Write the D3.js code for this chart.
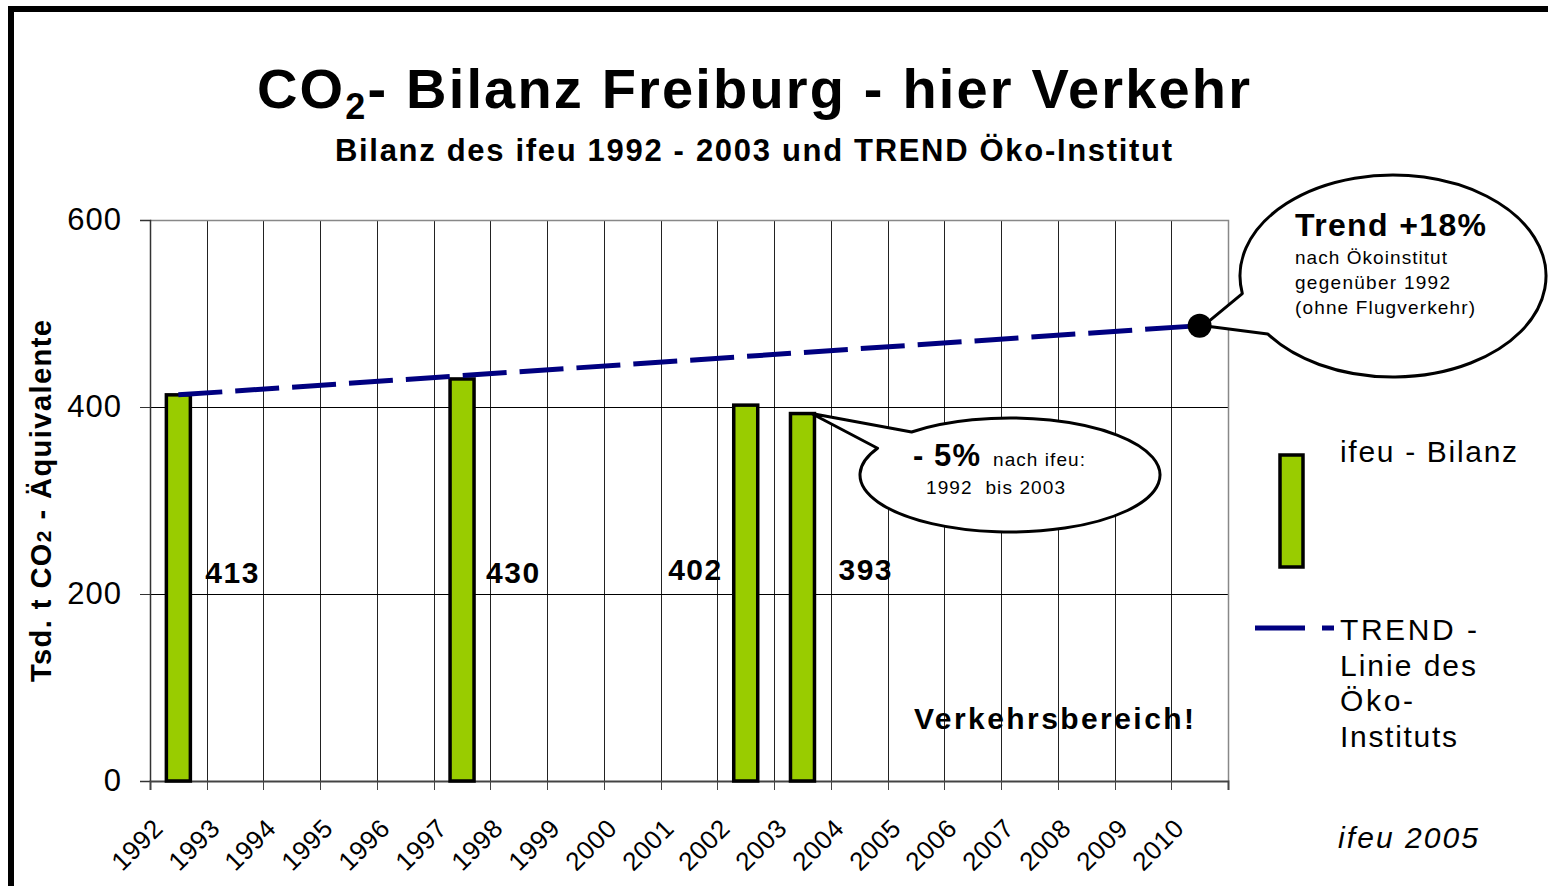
<!DOCTYPE html>
<meta charset="utf-8">
<html>
<head>
<style>
  body { margin: 0; background: #fff; }
  svg { display: block; font-family: "Liberation Sans", Arial, sans-serif; }
</style>
</head>
<body>
<svg width="1548" height="886" id="chart"></svg>
<script src="https://d3js.org/d3.v7.min.js"></script>
<script>
// ---- data ----
var years = ["1992", "1993", "1994", "1995", "1996", "1997", "1998", "1999", "2000", "2001",
             "2002", "2003", "2004", "2005", "2006", "2007", "2008", "2009", "2010"];
var bilanzYears = ["1992", "1997", "2002", "2003"];
var bilanzValues = [413, 430, 402, 393];
var trendYears = ["1992", "2010"];
var trendValues = [413, 487];
var yTicks = [0, 200, 400, 600];

// label offsets from the bar edges (layout only)
var labelDx = [15, 12, -11, 24];

var svg = d3.select("#chart");
var plot = { left: 150, right: 1228, top: 220, bottom: 781 };

var x = d3.scaleBand().domain(years).range([plot.left, plot.right]);
var y = d3.scaleLinear().domain([0, 600]).range([plot.bottom, plot.top]);
var bw = x.bandwidth();
var barW = 24;

// frame lines (left + top)
svg.append("path")
    .attr("d", "M11,886 L11,9 L1548,9")
    .attr("fill", "none")
    .attr("stroke", "#000")
    .attr("stroke-width", 6);

// title
var title = svg.append("text")
    .attr("x", 257).attr("y", 108)
    .attr("font-size", 56).attr("font-weight", "bold")
    .attr("textLength", 993).attr("lengthAdjust", "spacing");
title.append("tspan").text("CO");
title.append("tspan").attr("font-size", 36).attr("dy", 11).text("2");
title.append("tspan").attr("dy", -11).text("- Bilanz Freiburg - hier Verkehr");

svg.append("text")
    .attr("x", 335).attr("y", 161)
    .attr("font-size", 31).attr("font-weight", "bold")
    .attr("textLength", 837).attr("lengthAdjust", "spacing")
    .text("Bilanz des ifeu 1992 - 2003 und TREND Öko-Institut");

// grid
var grid = svg.append("g");
grid.selectAll(".vgrid")
    .data(years.slice(1))
    .enter().append("line")
    .attr("class", "vgrid")
    .attr("x1", function (d) { return Math.round(x(d)) + 0.5; })
    .attr("x2", function (d) { return Math.round(x(d)) + 0.5; })
    .attr("y1", plot.top).attr("y2", plot.bottom)
    .attr("stroke", "#222").attr("stroke-width", 1);
grid.selectAll(".hgrid")
    .data(yTicks.slice(1, 3))
    .enter().append("line")
    .attr("x1", plot.left).attr("x2", plot.right)
    .attr("y1", function (d) { return Math.round(y(d)) + 0.5; })
    .attr("y2", function (d) { return Math.round(y(d)) + 0.5; })
    .attr("stroke", "#000").attr("stroke-width", 1);
// plot border top/right
svg.append("path")
    .attr("d", "M" + plot.left + "," + (plot.top + 0.5) + " H" + (plot.right + 0.5) + " V" + plot.bottom)
    .attr("fill", "none").attr("stroke", "#888").attr("stroke-width", 1.5);

// y axis
var yAxis = svg.append("g")
    .attr("transform", "translate(" + plot.left + ",0)")
    .call(d3.axisLeft(y).tickValues(yTicks).tickSize(10).tickPadding(18));
yAxis.select(".domain").attr("stroke", "#333").attr("stroke-width", 1.5);
yAxis.selectAll(".tick line").attr("stroke", "#333");
yAxis.selectAll(".tick text")
    .attr("font-size", 31).attr("font-family", "Liberation Sans, Arial, sans-serif")
    .attr("letter-spacing", 1).attr("fill", "#000");

// x axis, ticks on category boundaries
var xAxis = svg.append("g")
    .attr("transform", "translate(0," + plot.bottom + ")")
    .call(d3.axisBottom(x).tickSize(9).tickSizeOuter(9));
xAxis.select(".domain").attr("stroke", "#444").attr("stroke-width", 2);
xAxis.selectAll(".tick")
    .attr("transform", function (d) { return "translate(" + (Math.round(x(d)) + 0.5) + ",0)"; });
xAxis.selectAll(".tick line").attr("stroke", "#444");
xAxis.selectAll(".tick text")
    .attr("font-size", 26).attr("font-family", "Liberation Sans, Arial, sans-serif")
    .attr("letter-spacing", 0.5).attr("fill", "#000")
    .attr("text-anchor", "end")
    .attr("x", 0).attr("y", 0).attr("dy", 0)
    .attr("transform", "translate(14,49) rotate(-45)");
xAxis.append("line")
    .attr("x1", plot.right + 0.5).attr("x2", plot.right + 0.5)
    .attr("y1", 0).attr("y2", 9).attr("stroke", "#444");

// y axis title
var yt = svg.append("text")
    .attr("transform", "translate(51,501) rotate(-90)")
    .attr("text-anchor", "middle")
    .attr("font-size", 29).attr("font-weight", "bold")
    .attr("textLength", 362).attr("lengthAdjust", "spacing");
yt.append("tspan").text("Tsd. t CO");
yt.append("tspan").attr("font-size", 21).text("2");
yt.append("tspan").text(" - Äquivalente");

// bars
var bars = bilanzYears.map(function (d, i) { return { year: d, value: bilanzValues[i], dx: labelDx[i] }; });
svg.selectAll(".bar")
    .data(bars)
    .enter().append("rect")
    .attr("class", "bar")
    .attr("x", function (d) { return x(d.year) + bw / 2 - barW / 2; })
    .attr("y", function (d) { return y(d.value); })
    .attr("width", barW)
    .attr("height", function (d) { return plot.bottom - y(d.value); })
    .attr("fill", "#99CC00")
    .attr("stroke", "#000").attr("stroke-width", 3.5);

svg.selectAll(".barlabel")
    .data(bars)
    .enter().append("text")
    .attr("x", function (d) {
        var c = x(d.year) + bw / 2;
        return d.dx < 0 ? c - barW / 2 + d.dx : c + barW / 2 + d.dx;
    })
    .attr("y", function (d) { return d.dx < 0 || d.year === "2003" ? 580 : 583; })
    .attr("text-anchor", function (d) { return d.dx < 0 ? "end" : "start"; })
    .attr("font-size", 30).attr("font-weight", "bold")
    .attr("letter-spacing", 1.5)
    .text(function (d) { return d.value; });

// trend line
var trend = trendYears.map(function (d, i) { return { year: d, value: trendValues[i] }; });
var line = d3.line()
    .x(function (d) { return x(d.year) + bw / 2; })
    .y(function (d) { return y(d.value); });
svg.append("path")
    .datum(trend)
    .attr("d", line)
    .attr("fill", "none")
    .attr("stroke", "#000080").attr("stroke-width", 5)
    .attr("stroke-dasharray", "44,13");

var trendEnd = [x(trendYears[1]) + bw / 2, y(trendValues[1])];

// callouts (ellipse with wedge)
function callout(cx, cy, rx, ry, a1, a2, apex) {
    var r = Math.PI / 180;
    var p1 = [cx + rx * Math.cos(a1 * r), cy + ry * Math.sin(a1 * r)];
    var p2 = [cx + rx * Math.cos(a2 * r), cy + ry * Math.sin(a2 * r)];
    svg.append("path")
        .attr("d", "M" + p1 + " A" + rx + "," + ry + " 0 1 1 " + p2 + " L" + apex + " Z")
        .attr("fill", "#fff").attr("stroke", "#000").attr("stroke-width", 3)
        .attr("stroke-linejoin", "round");
}
callout(1393, 276, 153, 101, 170, 145, [trendEnd[0] + 4, trendEnd[1]]);
svg.append("circle")
    .attr("cx", trendEnd[0]).attr("cy", trendEnd[1]).attr("r", 12)
    .attr("fill", "#000");

var c2 = x("2003") + bw / 2 + barW / 2 - 3;
callout(1010, 475, 150, 57, 229, 208, [c2, y(393)]);

// callout texts
svg.append("text").attr("x", 1295).attr("y", 236)
    .attr("font-size", 32).attr("font-weight", "bold")
    .attr("textLength", 191).attr("lengthAdjust", "spacing")
    .text("Trend +18%");
var t1 = ["nach Ökoinstitut", "gegenüber 1992", "(ohne Flugverkehr)"];
var t1w = [152, 155, 180];
svg.selectAll(".t1").data(t1).enter().append("text")
    .attr("x", 1295).attr("y", function (d, i) { return 264 + i * 25; })
    .attr("font-size", 19)
    .attr("textLength", function (d, i) { return t1w[i]; }).attr("lengthAdjust", "spacing")
    .text(function (d) { return d; });

svg.append("text").attr("x", 913).attr("y", 466)
    .attr("font-size", 31).attr("font-weight", "bold")
    .attr("textLength", 67).attr("lengthAdjust", "spacing")
    .text("- 5%");
svg.append("text").attr("x", 993).attr("y", 466)
    .attr("font-size", 19)
    .attr("textLength", 92).attr("lengthAdjust", "spacing")
    .text("nach ifeu:");
svg.append("text").attr("x", 926).attr("y", 494)
    .attr("font-size", 19).attr("xml:space", "preserve")
    .attr("textLength", 139).attr("lengthAdjust", "spacing")
    .text("1992  bis 2003");

// Verkehrsbereich!
svg.append("text").attr("x", 914).attr("y", 729)
    .attr("font-size", 30).attr("font-weight", "bold")
    .attr("textLength", 280).attr("lengthAdjust", "spacing")
    .text("Verkehrsbereich!");

// legend
svg.append("rect")
    .attr("x", 1280).attr("y", 455).attr("width", 23).attr("height", 112)
    .attr("fill", "#99CC00").attr("stroke", "#000").attr("stroke-width", 3.5);
svg.append("text").attr("x", 1340).attr("y", 462)
    .attr("font-size", 30)
    .attr("textLength", 177).attr("lengthAdjust", "spacing")
    .text("ifeu - Bilanz");
svg.append("line")
    .attr("x1", 1255).attr("x2", 1334).attr("y1", 628).attr("y2", 628)
    .attr("stroke", "#000080").attr("stroke-width", 5)
    .attr("stroke-dasharray", "50,17");
var legTrend = ["TREND -", "Linie des", "Öko-", "Instituts"];
var legW = [137, 136, 73, 117];
svg.selectAll(".leg").data(legTrend).enter().append("text")
    .attr("x", 1340).attr("y", function (d, i) { return 640 + i * 35.5; })
    .attr("font-size", 30)
    .attr("textLength", function (d, i) { return legW[i]; }).attr("lengthAdjust", "spacing")
    .text(function (d) { return d; });

// source
svg.append("text").attr("x", 1338).attr("y", 848)
    .attr("font-size", 30).attr("font-style", "italic")
    .attr("textLength", 140).attr("lengthAdjust", "spacing")
    .text("ifeu 2005");
</script>
</body>
</html>
